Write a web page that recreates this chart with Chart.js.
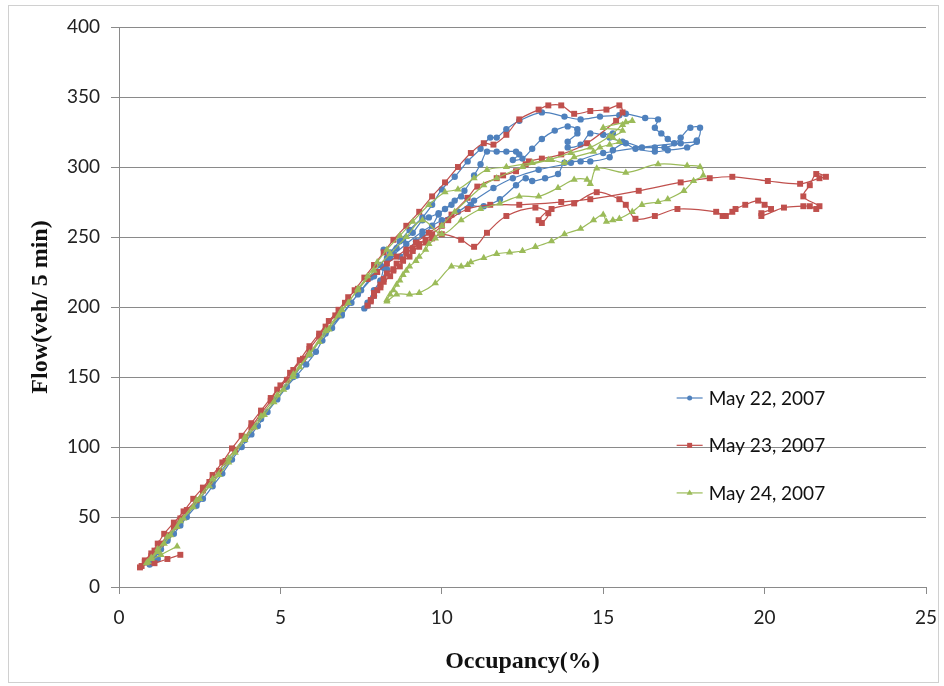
<!DOCTYPE html>
<html>
<head>
<meta charset="utf-8">
<script src="https://cdn.jsdelivr.net/npm/chart.js@4.4.1/dist/chart.umd.min.js"></script>
<style>
  html, body { margin: 0; padding: 0; background: #fff; }
  #wrap { width: 944px; height: 686px; position: relative; }
</style>
</head>
<body>
<div id="wrap"><canvas id="myChart" width="944" height="686"></canvas></div>
<script>
// occupancy (%), flow (veh/5 min) pairs
const may22 = [
  [1.2,20],[0.95,16],[1.0,18],[1.1,21],[1.3,27],[1.5,33],[1.7,38],[1.9,44],[2.1,50],[2.4,58],
  [2.6,63],[2.9,72],[3.2,81],[3.5,91],[3.8,100],[4.1,109],[4.3,115],[4.6,125],[4.9,134],[5.2,143],
  [5.5,151],[5.8,159],[6.1,168],[6.3,176],[6.6,185],[6.9,194],[7.2,203],[7.5,212],[7.8,221],[8.1,230],
  [8.4,239],[8.7,247],[9.0,255],[9.4,264],[9.7,273],[10.0,284],[10.4,293],[10.8,304],[11.2,313],[11.5,321],
  [11.7,321],[12.0,327],[12.4,333],[13.1,339],[13.8,336],[14.3,334],[14.9,336],[15.5,337],[15.7,338],[16.3,335],
  [16.7,334],[16.6,328],[16.8,324],[17.0,320],[17.2,317],[17.4,321],[17.7,328],[18.0,328],[17.9,319],[17.4,317],
  [16.9,314],[16.6,314],[16.2,314],[15.7,317],[15.3,312],[15.2,307],[14.6,304],[14.3,304],[13.8,303],[13.6,295],
  [13.2,292],[12.8,290],[12.6,292],[12.3,287],[11.8,277],[11.3,272],[10.9,273],[10.6,279],[10.3,273],[9.9,267],
  [9.6,264],[9.4,262],[9.1,253],[8.8,248],[8.6,242],[8.4,236],[8.3,227],[8.1,218],[7.9,208],[7.7,201],
  [7.6,199],[7.7,203],[7.9,212],[8.1,219],[8.2,228],[8.3,235],[8.2,241],[8.5,238],[8.7,236],[8.9,240],
  [9.2,247],[9.4,251],[9.7,258],[9.9,266],[10.1,270],[10.4,276],[10.7,283],[11.0,294],[11.2,302],[11.4,311],
  [11.7,311],[12.0,311],[12.3,311],[12.4,309],[12.2,305],[12.5,306],[12.8,313],[13.1,320],[13.5,326],[13.9,329],
  [14.2,327],[14.2,324],[13.9,318],[13.9,314],[14.3,316],[14.6,324],[15.0,323],[15.3,324],[15.2,321],[15.6,318],
  [16.0,313],[16.6,311],[17.0,312],[17.6,314],[17.9,318],[15.0,310],[14.0,303],[13.0,298],[12.2,292],[11.6,285],
  [11.0,276],[10.5,268],[10.0,262],[9.4,254],[8.9,245],[8.4,235],[7.9,222],[7.4,209],[6.9,195],[6.4,181],
  [5.9,166],[5.4,150],[4.9,135],[4.4,120],[3.9,105],[3.4,90],[2.9,75],[2.4,60],[1.9,46],[1.5,34],
  [1.2,25],[1.0,19]
];

const may23 = [
  [1.9,23],[1.5,20],[1.1,17],[0.7,15],[0.65,14],[0.8,18],[1.0,22],[1.1,26],[1.3,31],[1.5,37],
  [1.7,43],[1.9,49],[2.1,55],[2.4,62],[2.6,69],[2.8,75],[3.1,83],[3.3,90],[3.6,98],[3.9,107],
  [4.1,114],[4.4,124],[4.7,133],[4.9,141],[5.2,148],[5.4,155],[5.7,163],[5.9,170],[6.2,179],[6.4,186],
  [6.7,194],[7.0,203],[7.3,212],[7.6,221],[7.9,230],[8.2,239],[8.5,248],[8.9,258],[9.3,268],[9.7,279],
  [10.1,289],[10.5,300],[10.9,310],[11.3,317],[11.6,316],[12.0,323],[12.4,334],[13.0,341],[13.3,344],[13.7,344],
  [14.1,338],[14.6,340],[15.1,341],[15.5,344],[15.6,339],[15.4,333],[14.5,317],[13.7,309],[13.1,306],[12.7,304],
  [12.6,302],[12.3,297],[11.9,294],[11.7,292],[11.1,286],[10.8,278],[10.3,266],[10.0,258],[9.7,252],[9.5,248],
  [9.3,245],[9.1,242],[8.9,238],[8.8,234],[8.6,231],[8.5,227],[8.3,224],[8.2,220],[8.1,216],[8.0,212],
  [7.9,208],[7.8,204],[7.7,201],[7.8,205],[7.9,210],[8.1,214],[8.2,218],[8.4,222],[8.5,226],[8.7,229],
  [8.8,233],[9.0,236],[9.1,240],[9.3,243],[9.5,246],[9.7,249],[10.0,252],[10.6,248],[11.0,243],[11.4,253],
  [12.0,265],[12.9,271],[13.3,267],[13.1,260],[13.0,262],[13.4,270],[14.1,274],[14.8,282],[15.5,277],[15.7,273],
  [16.0,263],[16.6,265],[17.3,270],[18.5,268],[18.7,265],[18.8,265],[19.0,268],[19.1,270],[19.4,273],[19.8,276],
  [20.0,273],[20.2,270],[19.9,267],[19.9,265],[20.6,271],[21.2,272],[21.4,272],[21.6,270],[21.7,272],[21.2,279],
  [21.4,287],[21.6,295],[21.9,293],[21.7,292],[21.1,288],[20.1,290],[19.0,293],[18.3,292],[17.4,289],[16.1,283],
  [14.6,277],[13.7,275],[12.4,273],[11.5,273],[10.8,270],[10.2,262],[9.6,253],[9.2,246],[8.9,241],[8.6,236],
  [8.3,231],[8.0,225],[7.7,220],[7.4,213],[7.1,207],[6.8,198],[6.5,190],[6.2,181],[5.9,172],[5.6,162],
  [5.3,153],[5.0,144],[4.7,135],[4.4,126],[4.1,117],[3.8,108],[3.5,99],[3.2,89],[2.9,80],[2.6,71],
  [2.3,63],[2.0,54],[1.7,46],[1.4,38],[1.2,31],[1.0,24],[0.8,19]
];

const may24 = [
  [1.8,29],[1.3,23],[0.9,18],[0.85,17],[1.0,20],[1.2,25],[1.4,31],[1.6,37],[1.8,43],[2.0,49],
  [2.3,57],[2.5,63],[2.8,72],[3.1,80],[3.4,89],[3.6,96],[3.9,105],[4.2,114],[4.5,123],[4.8,132],
  [5.1,141],[5.4,150],[5.6,157],[5.9,166],[6.2,175],[6.5,184],[6.8,194],[7.1,203],[7.4,213],[7.7,222],
  [8.0,232],[8.3,241],[8.7,251],[9.1,261],[9.6,273],[10.1,282],[10.5,284],[11.0,292],[11.4,298],[12.0,300],
  [12.8,303],[13.4,305],[13.8,303],[14.1,307],[14.7,311],[14.9,314],[15.2,316],[15.5,318],[15.3,321],[15.6,326],
  [15.0,328],[15.7,332],[15.9,333],[15.6,330],[15.2,322],[14.6,314],[14.0,310],[13.3,305],[12.5,300],[11.7,292],
  [11.3,287],[10.4,268],[10.0,258],[9.8,249],[9.6,245],[9.5,241],[9.3,236],[9.2,233],[9.0,229],[8.9,226],
  [8.8,223],[8.7,219],[8.6,216],[8.5,212],[8.4,209],[8.3,205],[8.3,204],[8.6,209],[9.0,209],[9.3,210],
  [9.8,217],[10.3,229],[10.6,229],[10.8,230],[10.9,232],[11.3,235],[11.7,238],[12.1,239],[12.5,240],[12.9,243],
  [13.4,247],[13.8,252],[14.3,256],[14.7,262],[15.0,266],[15.1,261],[15.3,262],[15.5,263],[15.9,268],[16.2,273],
  [16.7,275],[17.0,277],[17.5,283],[17.8,290],[18.1,294],[18.0,300],[17.6,301],[16.7,302],[15.7,296],[14.8,299],
  [14.6,288],[14.5,291],[14.1,291],[13.6,285],[13.0,279],[12.4,279],[11.8,274],[11.2,270],[10.6,262],[10.0,252],
  [9.4,262],[8.9,250],[8.4,238],[7.9,226],[7.4,212],[6.9,198],[6.4,183],[5.9,167],[5.4,152],[4.9,137],
  [4.4,122],[3.9,107],[3.4,92],[2.9,77],[2.4,62],[1.9,47],[1.5,36],[1.2,27],[1.0,21]
];

const seriesNames = ['May 22, 2007', 'May 23, 2007', 'May 24, 2007'];
const seriesColors = ['#4F81BD', '#C0504D', '#9BBB59'];
const seriesMarkers = ['circle', 'rect', 'triangle'];
const seriesData = [may22, may23, may24];

function toPoints(arr) {
  return arr.map(function (p) { return {x: p[0], y: p[1]}; });
}

let datasets = seriesData.map(function (arr, i) {
  return {
    label: seriesNames[i],
    data: toPoints(arr),
    showLine: true,
    borderColor: seriesColors[i],
    backgroundColor: seriesColors[i],
    borderWidth: 1.2,
    tension: 0.35,
    pointStyle: seriesMarkers[i],
    pointRadius: [3.2, 4.2, 4.2][i],
    pointBorderWidth: 0,
    order: 3 - i
  };
});

// frame + legend, drawn by hand to sit inside the plot like the original
const framePlugin = {
  id: 'frame',
  beforeDraw: function (chart) {
    let ctx = chart.ctx;
    ctx.save();
    ctx.fillStyle = '#fff';
    ctx.fillRect(0, 0, chart.width, chart.height);
    ctx.strokeStyle = '#d0d0d0';
    ctx.lineWidth = 1;
    ctx.strokeRect(8.5, 5.5, chart.width - 14, chart.height - 9);
    ctx.restore();
  },
  afterDraw: function (chart) {
    let ctx = chart.ctx;
    let area = chart.chartArea;
    let x0 = area.left + area.width * 0.691;
    let rows = [0.6625, 0.747, 0.832];
    ctx.save();
    ctx.font = '19px Lato';
    ctx.textBaseline = 'middle';
    ctx.textAlign = 'left';
    chart.data.datasets.forEach(function (ds, i) {
      let y = area.top + area.height * rows[i];
      ctx.strokeStyle = ds.borderColor;
      ctx.lineWidth = 1.2;
      ctx.beginPath();
      ctx.moveTo(x0, y);
      ctx.lineTo(x0 + 26, y);
      ctx.stroke();
      ctx.fillStyle = ds.backgroundColor;
      Chart.helpers.drawPoint(ctx, {pointStyle: ds.pointStyle, radius: ds.pointRadius - 0.7, borderWidth: 0}, x0 + 13, y);
      ctx.fillStyle = '#111';
      ctx.fillText(ds.label, x0 + 32, y + 1);
    });
    ctx.restore();
  }
};

let ctx = document.getElementById('myChart').getContext('2d');
let config = {
  type: 'scatter',
  data: { datasets: datasets },
  options: {
    responsive: false,
    animation: false,
    layout: { padding: { left: 0, top: 27, right: 18, bottom: 0 } },
    plugins: {
      legend: { display: false },
      tooltip: { enabled: false }
    },
    scales: {
      x: {
        type: 'linear',
        min: 0,
        max: 25,
        ticks: { stepSize: 5, color: '#222', font: { family: 'Lato', size: 19 }, padding: 12 },
        grid: { drawOnChartArea: false, drawTicks: true, tickLength: 7, color: '#8a8a8a' },
        border: { display: true, color: '#8a8a8a' },
        title: { display: true, text: 'Occupancy(%)', color: '#111',
                 font: { family: 'Liberation Serif', size: 24, weight: 'bold' }, padding: { bottom: 10 } },
        afterFit: function (scale) {
          scale.height = 99;
          scale.paddingLeft = 0;
          scale.paddingRight = 0;
        }
      },
      y: {
        type: 'linear',
        min: 0,
        max: 400,
        ticks: { stepSize: 50, color: '#222', font: { family: 'Lato', size: 19 }, padding: 11 },
        grid: { drawTicks: true, tickLength: 8, color: '#8a8a8a' },
        border: { display: true, color: '#8a8a8a' },
        title: { display: true, text: 'Flow(veh/ 5 min)', color: '#111',
                 font: { family: 'Liberation Serif', size: 24, weight: 'bold' }, padding: { top: 26 } },
        afterFit: function (scale) { scale.width = 119; }
      }
    }
  },
  plugins: [framePlugin]
};
window.myChart = new Chart(ctx, config);
</script>
</body>
</html>
